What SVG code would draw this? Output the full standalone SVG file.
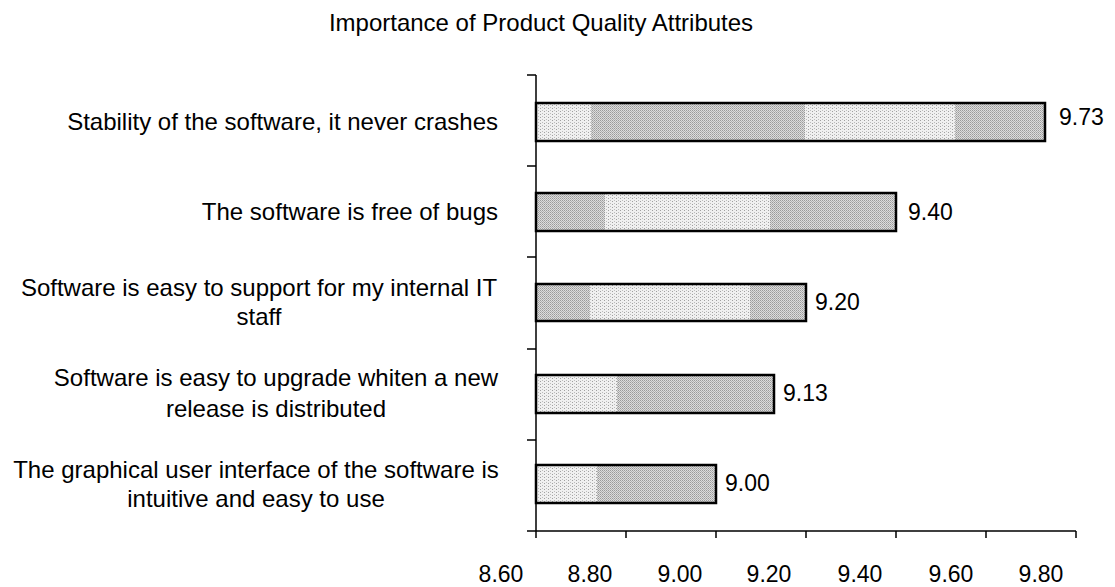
<svg xmlns="http://www.w3.org/2000/svg" width="1115" height="587" viewBox="0 0 1115 587">
<defs>
<pattern id="dots" width="2" height="2" patternUnits="userSpaceOnUse">
<rect width="2" height="2" fill="#dcdcdc"/>
<rect width="1" height="1" fill="#9a9a9a"/>
<rect x="1" y="1" width="1" height="1" fill="#b0b0b0"/>
</pattern>
<pattern id="dotsLight" width="4" height="3" patternUnits="userSpaceOnUse">
<rect width="4" height="3" fill="#f0f0f0"/>
<rect width="1" height="1" fill="#a0a0a0"/>
<rect x="2" y="2" width="1" height="1" fill="#bdbdbd"/>
</pattern>
</defs>
<style>
text { font-family: "Liberation Sans", Arial, sans-serif; fill: #000; }
.title { font-size: 24px; }
.cat { font-size: 24px; }
.num { font-size: 23px; }
.bar { fill: url(#dots); }
.light { fill: url(#dotsLight); }
.frame { fill: none; stroke: #000; stroke-width: 2.5; }
.axis { stroke: #000; stroke-width: 1.5; fill: none; }
</style>
<rect width="1115" height="587" fill="#fff"/>
<text class="title" x="541" y="31" text-anchor="middle">Importance of Product Quality Attributes</text>

<g id="axes">
<path class="axis" d="M536,75 V531 M527,75 H536 M527,166 H536 M527,257 H536 M527,349 H536 M527,440 H536 M527,531 H1076"/>
<path class="axis" d="M536,531 V538 M626,531 V538 M716,531 V538 M806,531 V538 M896,531 V538 M986,531 V538 M1076,531 V538"/>
<text class="num" x="501" y="582" text-anchor="middle">8.60</text>
<text class="num" x="590" y="582" text-anchor="middle">8.80</text>
<text class="num" x="680" y="582" text-anchor="middle">9.00</text>
<text class="num" x="769" y="582" text-anchor="middle">9.20</text>
<text class="num" x="860" y="582" text-anchor="middle">9.40</text>
<text class="num" x="951" y="582" text-anchor="middle">9.60</text>
<text class="num" x="1041" y="582" text-anchor="middle">9.80</text>
</g>

<g id="bar-stability">
<rect class="bar" x="536" y="103" width="509" height="38"/>
<rect class="light" x="537" y="104" width="54" height="36"/>
<rect class="light" x="805" y="104" width="150" height="36"/>
<rect class="frame" x="536" y="103" width="509" height="38"/>
<text class="num" x="1059" y="125">9.73</text>
<text class="cat" x="498" y="130" text-anchor="end">Stability of the software, it never crashes</text>
</g>

<g id="bar-bugs">
<rect class="bar" x="536" y="193" width="360" height="38"/>
<rect class="light" x="605" y="194" width="165" height="36"/>
<rect class="frame" x="536" y="193" width="360" height="38"/>
<text class="num" x="908" y="220">9.40</text>
<text class="cat" x="498" y="220" text-anchor="end">The software is free of bugs</text>
</g>

<g id="bar-support">
<rect class="bar" x="536" y="284" width="270" height="37"/>
<rect class="light" x="590" y="285" width="160" height="35"/>
<rect class="frame" x="536" y="284" width="270" height="37"/>
<text class="num" x="815" y="310">9.20</text>
<text class="cat" x="259" y="296" text-anchor="middle">Software is easy to support for my internal IT</text>
<text class="cat" x="259" y="325" text-anchor="middle">staff</text>
</g>

<g id="bar-upgrade">
<rect class="bar" x="536" y="375" width="238" height="38"/>
<rect class="light" x="537" y="376" width="80" height="36"/>
<rect class="frame" x="536" y="375" width="238" height="38"/>
<text class="num" x="783" y="401">9.13</text>
<text class="cat" x="276" y="386" text-anchor="middle">Software is easy to upgrade whiten a new</text>
<text class="cat" x="276" y="417" text-anchor="middle">release is distributed</text>
</g>

<g id="bar-gui">
<rect class="bar" x="536" y="465" width="180" height="38"/>
<rect class="light" x="537" y="466" width="60" height="36"/>
<rect class="frame" x="536" y="465" width="180" height="38"/>
<text class="num" x="725" y="491">9.00</text>
<text class="cat" x="256" y="478" text-anchor="middle">The graphical user interface of the software is</text>
<text class="cat" x="256" y="507" text-anchor="middle">intuitive and easy to use</text>
</g>
</svg>
